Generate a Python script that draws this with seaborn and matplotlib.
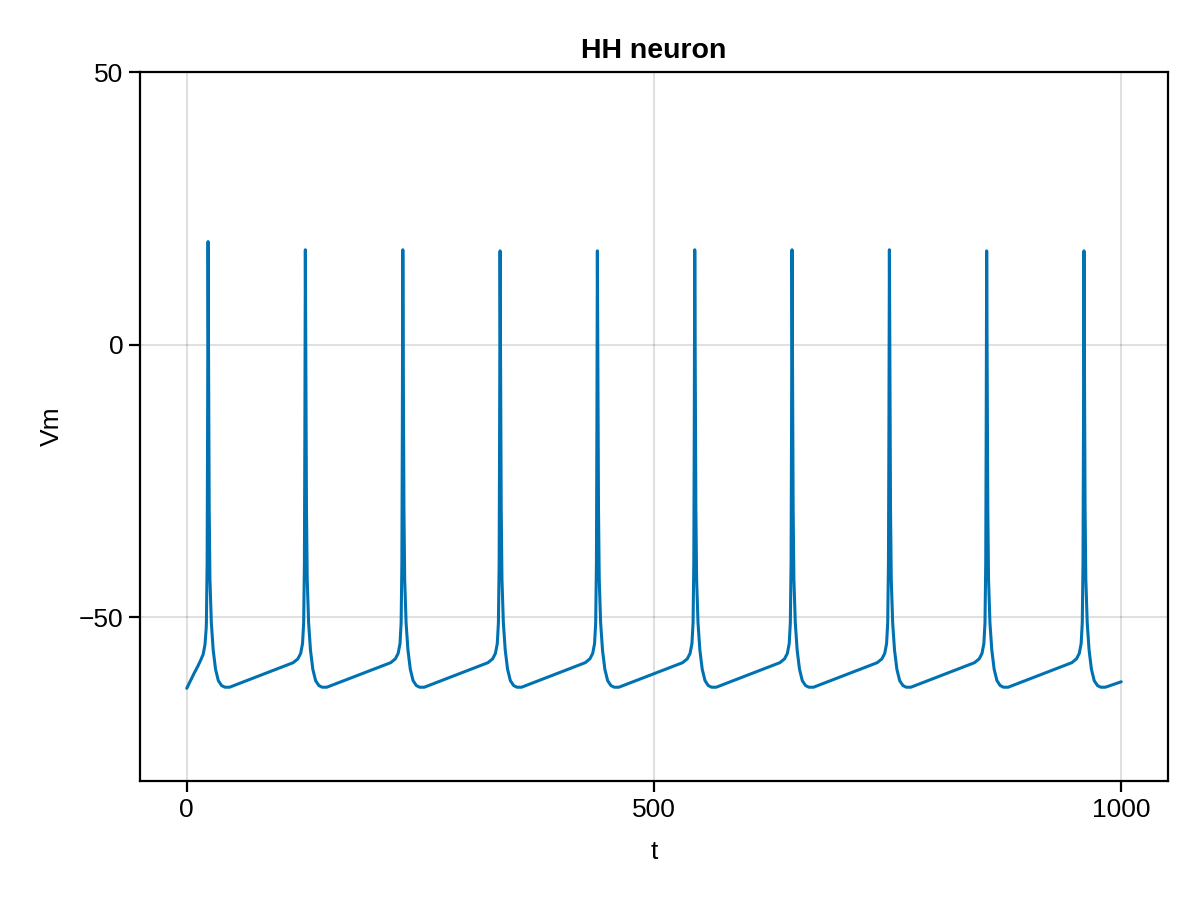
import numpy as np
import seaborn as sns
import matplotlib.pyplot as plt

# spike peak times and heights
spike_t = [22.8, 126.9, 231.2, 335.3, 439.4, 543.6, 647.7, 751.9, 856.0, 960.1]
spike_v = [18.9, 17.4, 17.4, 17.2, 17.2, 17.4, 17.4, 17.4, 17.2, 17.2]

# shape of one action potential around its peak (offset from peak, Vm)
shape_dt = [-13, -8, -5, -3, -1.8, -1.0, -0.5, 0.0, 0.6, 1.2, 2.0, 3.5, 5.5, 8.0, 11.0, 14.5, 18.0, 23.0]
shape_v = [-58.3, -57.6, -56.6, -54.8, -51.0, -40.0, -15.0, None, -5.0, -30.0, -43.0, -51.0, -56.0, -59.5, -61.6, -62.5, -62.8, -62.8]

# start of the run before the first spike, and the end point
start_t = [0, 4, 8, 12, 15, 17.5, 19.5, 20.8]
start_v = [-63.0, -61.6, -60.2, -58.9, -57.8, -56.8, -55.0, -52.0]
end_t = [1000]
end_v = [-61.8]

t, v = list(start_t), list(start_v)
for pt, pv in zip(spike_t, spike_v):
    for dt, sv in zip(shape_dt, shape_v):
        if pt + dt <= t[-1]:
            continue
        t.append(pt + dt)
        v.append(pv if sv is None else sv)
t += end_t
v += end_v

sns.set_theme(style="whitegrid")
plt.rcParams['font.family'] = ['Liberation Sans', 'DejaVu Sans']
plt.rcParams['text.color'] = 'black'
plt.rcParams['axes.labelcolor'] = 'black'
plt.rcParams['xtick.color'] = 'black'
plt.rcParams['ytick.color'] = 'black'

fig = plt.figure(figsize=(12, 9), dpi=100)
ax = fig.add_axes([0.1167, 0.1322, 0.8566, 0.7878])
sns.lineplot(x=t, y=v, ax=ax, color='#0072b2', linewidth=2.2)

ax.set_xlim(-50, 1050)
ax.set_ylim(-80, 50)
ax.set_xticks([0, 500, 1000])
ax.set_yticks([-50, 0, 50])
ax.set_yticklabels(['\u221250', '0', '50'])
ax.grid(True, color='#000000', alpha=0.12, linewidth=1.5)
for s in ax.spines.values():
    s.set_color('black')
    s.set_linewidth(1.6)
ax.tick_params(axis='both', direction='out', length=8, width=1.6, colors='black',
               labelsize=19, pad=4, left=True, bottom=True)
ax.set_xlabel('t', fontsize=19, labelpad=13)
ax.set_ylabel('Vm', fontsize=19, labelpad=11)
ax.set_title('HH neuron', fontsize=20.5, fontweight='bold', pad=10, color='black')
ax.set_facecolor('white')

fig.savefig('out.png', dpi=100)
